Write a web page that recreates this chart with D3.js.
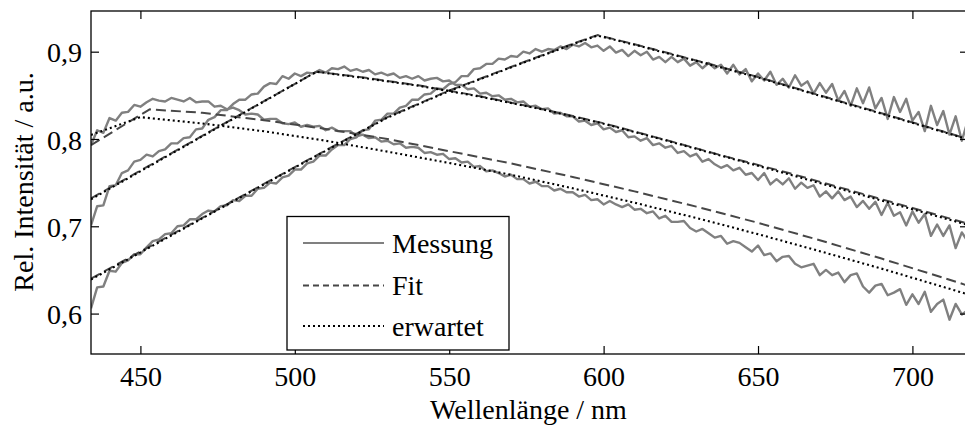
<!DOCTYPE html>
<html>
<head>
<meta charset="utf-8">
<script src="https://cdn.jsdelivr.net/npm/d3@7"></script>
<style>
  html, body { margin: 0; padding: 0; background: #fff; }
  svg { display: block; font-family: "Liberation Serif", "DejaVu Serif", serif; }
</style>
</head>
<body>
<svg id="chart" width="965" height="430"></svg>
<script>
// Measured spectra, sampled every 2 nm starting at 434 nm
const messungStartNm = 434;
const messungStepNm = 2;

const messung1 = [
  0.793, 0.810, 0.807, 0.824, 0.821, 0.830, 0.831, 0.839, 0.837, 0.842,
  0.846, 0.844, 0.843, 0.847, 0.845, 0.843, 0.847, 0.842, 0.843, 0.843,
  0.837, 0.838, 0.834, 0.836, 0.833, 0.828, 0.829, 0.828, 0.822, 0.823,
  0.823, 0.818, 0.817, 0.819, 0.814, 0.816, 0.814, 0.815, 0.810, 0.813,
  0.809, 0.809, 0.809, 0.803, 0.805, 0.801, 0.802, 0.797, 0.798, 0.794,
  0.795, 0.790, 0.791, 0.790, 0.784, 0.785, 0.782, 0.783, 0.777, 0.778,
  0.773, 0.774, 0.768, 0.769, 0.763, 0.764, 0.761, 0.757, 0.759, 0.754,
  0.754, 0.749, 0.751, 0.746, 0.746, 0.741, 0.743, 0.739, 0.739, 0.734,
  0.736, 0.730, 0.731, 0.725, 0.729, 0.725, 0.722, 0.725, 0.719, 0.720,
  0.715, 0.717, 0.709,
  0.712, 0.705, 0.705, 0.706, 0.698, 0.694, 0.697, 0.692, 0.687, 0.689,
  0.680, 0.683, 0.681, 0.676, 0.671, 0.678, 0.667, 0.669, 0.660, 0.665,
  0.666, 0.657, 0.653, 0.655, 0.657, 0.644, 0.650, 0.644, 0.647, 0.636,
  0.644, 0.646, 0.631, 0.624, 0.632, 0.634, 0.621, 0.624, 0.628, 0.610,
  0.622, 0.611, 0.625, 0.602, 0.611, 0.616, 0.593, 0.611, 0.599, 0.604
];

const messung2 = [
  0.701, 0.723, 0.724, 0.746, 0.747, 0.761, 0.764, 0.774, 0.776, 0.782,
  0.780, 0.786, 0.788, 0.795, 0.795, 0.801, 0.802, 0.811, 0.812, 0.822,
  0.825, 0.833, 0.833, 0.840, 0.845, 0.845, 0.851, 0.852, 0.860, 0.864,
  0.863, 0.872, 0.869, 0.875, 0.872, 0.876, 0.875, 0.879, 0.876, 0.881,
  0.880, 0.883, 0.878, 0.880, 0.877, 0.879, 0.874, 0.876, 0.873, 0.875,
  0.870, 0.872, 0.869, 0.872, 0.867, 0.869, 0.870, 0.866, 0.867, 0.862,
  0.862, 0.857, 0.858, 0.852, 0.853, 0.849, 0.850, 0.845, 0.846, 0.842,
  0.843, 0.837, 0.838, 0.834, 0.835, 0.829, 0.830, 0.826, 0.826, 0.820,
  0.821, 0.816, 0.818, 0.811, 0.813, 0.808, 0.810, 0.802, 0.803, 0.798,
  0.801, 0.793, 0.795, 0.790, 0.792, 0.784, 0.786, 0.780, 0.783, 0.774,
  0.777, 0.771, 0.767, 0.770, 0.764, 0.767, 0.759, 0.761, 0.753, 0.761,
  0.748, 0.754, 0.748, 0.755, 0.743, 0.750, 0.744, 0.747, 0.734, 0.740,
  0.732, 0.740, 0.730, 0.734, 0.722, 0.729, 0.720, 0.728, 0.713, 0.727,
  0.712, 0.716, 0.701, 0.717, 0.704, 0.714, 0.689, 0.702, 0.689, 0.701,
  0.675, 0.693, 0.682
];

const messung3 = [
  0.606, 0.630, 0.631, 0.649, 0.648, 0.658, 0.661, 0.668, 0.668, 0.676,
  0.683, 0.685, 0.691, 0.692, 0.700, 0.701, 0.708, 0.708, 0.714, 0.718,
  0.717, 0.723, 0.724, 0.730, 0.729, 0.735, 0.735, 0.743, 0.744, 0.750,
  0.749, 0.756, 0.758, 0.765, 0.765, 0.772, 0.774, 0.781, 0.781, 0.788,
  0.793, 0.793, 0.800, 0.802, 0.810, 0.811, 0.821, 0.822, 0.829, 0.829,
  0.836, 0.838, 0.845, 0.845, 0.851, 0.852, 0.858, 0.857, 0.863, 0.865,
  0.872, 0.872, 0.880, 0.881, 0.886, 0.886, 0.892, 0.891, 0.895, 0.894,
  0.900, 0.898, 0.903, 0.900, 0.903, 0.902, 0.906, 0.903, 0.908, 0.906,
  0.910, 0.905, 0.907, 0.901, 0.906, 0.899, 0.902, 0.895, 0.901, 0.896,
  0.900, 0.891, 0.894, 0.888, 0.894, 0.888, 0.892, 0.884, 0.888, 0.881,
  0.887, 0.881, 0.885, 0.875, 0.885, 0.874, 0.880, 0.866, 0.875, 0.867,
  0.877, 0.862, 0.869, 0.859, 0.873, 0.861, 0.866, 0.852, 0.864, 0.853,
  0.863, 0.844, 0.855, 0.838, 0.858, 0.841, 0.859, 0.835, 0.847, 0.823,
  0.848, 0.831, 0.846, 0.821, 0.831, 0.809, 0.838, 0.816, 0.832, 0.805,
  0.826, 0.798, 0.822
];

// Fitted model curves (wavelength / value pairs)
const fitNm1 = [434, 453, 470, 490, 510, 530, 550, 570, 590, 610, 630, 650, 670, 690, 710, 718];
const fit1   = [0.793, 0.834, 0.830, 0.8215, 0.8115, 0.800, 0.786, 0.772, 0.7565, 0.740, 0.7225, 0.704, 0.684, 0.663, 0.641, 0.632];
const fitNm2 = [434, 507, 520, 540, 560, 580, 600, 620, 640, 660, 680, 700, 718];
const fit2   = [0.732, 0.877, 0.8715, 0.8615, 0.849, 0.8345, 0.818, 0.799, 0.7795, 0.761, 0.741, 0.721, 0.703];
const fitNm3 = [434, 450, 470, 490, 510, 530, 550, 570, 590, 598, 610, 630, 650, 670, 690, 710, 718];
const fit3   = [0.640, 0.671, 0.7096, 0.7485, 0.787, 0.825, 0.8555, 0.8825, 0.909, 0.919, 0.9085, 0.890, 0.871, 0.850, 0.8295, 0.8085, 0.800];

// Expected curves
const expNm1 = [434, 450, 470, 490, 510, 530, 550, 570, 590, 610, 630, 650, 670, 690, 710, 718];
const erwartet1 = [0.8046, 0.825, 0.8178, 0.8088, 0.798, 0.7855, 0.7725, 0.759, 0.7435, 0.727, 0.7095, 0.691, 0.6715, 0.6515, 0.6305, 0.622];
const expNm2 = [434, 507, 520, 540, 560, 580, 600, 620, 640, 660, 680, 700, 718];
const erwartet2 = [0.731, 0.877, 0.871, 0.861, 0.8485, 0.834, 0.8175, 0.7985, 0.779, 0.7595, 0.7395, 0.7195, 0.7015];
const expNm3 = [434, 450, 470, 490, 510, 530, 550, 570, 590, 598, 610, 630, 650, 670, 690, 710, 718];
const erwartet3 = [0.639, 0.670, 0.709, 0.748, 0.7865, 0.8245, 0.855, 0.882, 0.9085, 0.9185, 0.908, 0.8895, 0.8705, 0.8495, 0.829, 0.808, 0.7995];

// Axis ticks and labels
const xTicks = [450, 500, 550, 600, 650, 700];
const yTicks = [0.6, 0.7, 0.8, 0.9];
const xDomain = [434, 718];
const yDomain = [0.5537, 0.9466];
const xTitle = "Wellenlänge / nm";
const yTitle = "Rel. Intensität / a.u.";
const legendLabels = ["Messung", "Fit", "erwartet"];

// ---------------------------------------------------------------
const FONT = 28;
const plot = { left: 91, top: 11, right: 968, bottom: 354 };

const svg = d3.select("#chart");
svg.append("rect").attr("width", 965).attr("height", 430).attr("fill", "#fff");

const x = d3.scaleLinear().domain(xDomain).range([plot.left, plot.right]);
const y = d3.scaleLinear().domain(yDomain).range([plot.bottom, plot.top]);

svg.append("defs").append("clipPath").attr("id", "plotClip")
  .append("rect")
  .attr("x", plot.left).attr("y", plot.top)
  .attr("width", plot.right - plot.left).attr("height", plot.bottom - plot.top);

const line = d3.line().x(d => x(d[0])).y(d => y(d[1]));
const sampled = arr => arr.map((v, i) => [messungStartNm + i * messungStepNm, v]);
const paired = (nm, vals) => nm.map((n, i) => [n, vals[i]]);

const styles = {
  messung:  { stroke: "#808080", width: 2.4, dash: null },
  fit:      { stroke: "#474747", width: 2.0, dash: "10,5" },
  erwartet: { stroke: "#000000", width: 2.1, dash: "2,3" }
};

const series = [
  { kind: "messung", data: sampled(messung1) },
  { kind: "messung", data: sampled(messung2) },
  { kind: "messung", data: sampled(messung3) },
  { kind: "fit", data: paired(fitNm1, fit1) },
  { kind: "fit", data: paired(fitNm2, fit2) },
  { kind: "fit", data: paired(fitNm3, fit3) },
  { kind: "erwartet", data: paired(expNm1, erwartet1) },
  { kind: "erwartet", data: paired(expNm2, erwartet2) },
  { kind: "erwartet", data: paired(expNm3, erwartet3) }
];

svg.append("g").attr("clip-path", "url(#plotClip)")
  .selectAll("path").data(series).join("path")
  .attr("d", d => line(d.data))
  .attr("fill", "none")
  .attr("stroke", d => styles[d.kind].stroke)
  .attr("stroke-width", d => styles[d.kind].width)
  .attr("stroke-dasharray", d => styles[d.kind].dash)
  .attr("stroke-linejoin", "round");

// Axes: ticks point inward, labels with decimal comma
const de = d3.formatLocale({ decimal: ",", thousands: ".", grouping: [3], currency: ["", "€"] });
const yFmt = de.format(".1f");

function styleAxis(g) {
  g.select(".domain").remove();
  g.attr("font-family", null).attr("font-size", FONT);
  g.selectAll(".tick line").attr("stroke", "#000").attr("stroke-width", 1.2);
  g.selectAll(".tick text").attr("fill", "#000");
}

svg.append("g").attr("transform", `translate(${plot.left},0)`)
  .call(d3.axisLeft(y).tickValues(yTicks).tickFormat(yFmt).tickSizeInner(-8).tickSizeOuter(0).tickPadding(9))
  .call(styleAxis)
  .selectAll(".tick text").attr("dy", "0.36em");

svg.append("g").attr("transform", `translate(${plot.right},0)`)
  .call(d3.axisRight(y).tickValues(yTicks).tickFormat("").tickSizeInner(-8).tickSizeOuter(0))
  .call(styleAxis);

svg.append("g").attr("transform", `translate(0,${plot.bottom})`)
  .call(d3.axisBottom(x).tickValues(xTicks).tickFormat(d3.format("d")).tickSizeInner(-8).tickSizeOuter(0).tickPadding(12.5))
  .call(styleAxis);

svg.append("g").attr("transform", `translate(0,${plot.top})`)
  .call(d3.axisTop(x).tickValues(xTicks).tickFormat("").tickSizeInner(-8).tickSizeOuter(0))
  .call(styleAxis);

// Frame
svg.append("rect")
  .attr("x", plot.left).attr("y", plot.top)
  .attr("width", plot.right - plot.left).attr("height", plot.bottom - plot.top)
  .attr("fill", "none").attr("stroke", "#000").attr("stroke-width", 1.3);

// Axis titles
svg.append("text")
  .attr("x", (plot.left + plot.right) / 2 - 1).attr("y", 418.5)
  .attr("text-anchor", "middle").attr("font-size", FONT).attr("fill", "#000")
  .text(xTitle);

svg.append("text")
  .attr("transform", "translate(33,182) rotate(-90)")
  .attr("text-anchor", "middle").attr("font-size", FONT).attr("fill", "#000")
  .text(yTitle);

// Legend
const legend = svg.append("g");
legend.append("rect")
  .attr("x", 287).attr("y", 216.5).attr("width", 222).attr("height", 133.5)
  .attr("fill", "#fff").attr("stroke", "#000").attr("stroke-width", 1.3);

const legendRows = [
  { label: legendLabels[0], kind: "messung", y: 243, dash: null },
  { label: legendLabels[1], kind: "fit", y: 285.5, dash: "6,4" },
  { label: legendLabels[2], kind: "erwartet", y: 326, dash: "2,3" }
];

const rows = legend.selectAll("g.row").data(legendRows).join("g").attr("class", "row");
rows.append("line")
  .attr("x1", 303).attr("x2", 384)
  .attr("y1", d => d.y).attr("y2", d => d.y)
  .attr("stroke", d => styles[d.kind].stroke)
  .attr("stroke-width", d => d.kind === "messung" ? 2.2 : 1.8)
  .attr("stroke-dasharray", d => d.dash);
rows.append("text")
  .attr("x", 392).attr("y", d => d.y + 9.5)
  .attr("font-size", FONT).attr("fill", "#000")
  .text(d => d.label);
</script>
</body>
</html>
